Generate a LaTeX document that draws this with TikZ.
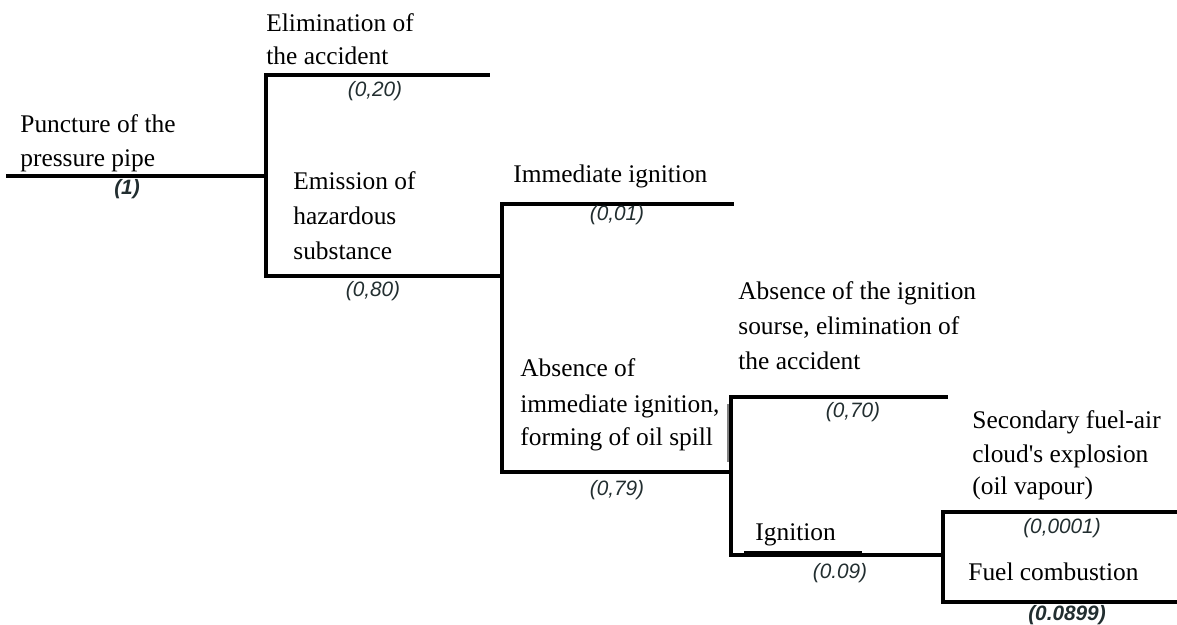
\documentclass[tikz,border=0pt]{standalone}
\usepackage{fontspec}
\setmainfont{Liberation Serif}
\newfontfamily\labfont{Liberation Sans}
\definecolor{labcol}{RGB}{34,46,48}
\begin{document}
\begin{tikzpicture}[x=0.5pt,y=-0.5pt,
  txt/.style={anchor=base west,inner sep=0pt,font=\fontsize{12.7}{15}\selectfont},
  prob/.style={anchor=base,inner sep=0pt,text=labcol,font=\labfont\itshape\fontsize{10.4}{12}\selectfont},
  probb/.style={prob,font=\labfont\bfseries\itshape\fontsize{10.4}{12}\selectfont},
  branch/.style={line width=1.6pt,line cap=rect}]
\useasboundingbox (0,0) rectangle (1177,625);
% junction coordinates
\coordinate (s0) at (8,176);
\coordinate (j1) at (266,176);
\coordinate (j1t) at (266,75);
\coordinate (j1b) at (266,276);
\coordinate (e1) at (488,75);
\coordinate (j2) at (502,276);
\coordinate (j2t) at (502,204);
\coordinate (j2b) at (502,472);
\coordinate (e2) at (732,204);
\coordinate (j3) at (731,472);
\coordinate (j3t) at (731,397);
\coordinate (j3b) at (731,555);
\coordinate (e3) at (946,397);
\coordinate (j4) at (943,555);
\coordinate (j4t) at (943,512);
\coordinate (j4b) at (943,602);
\coordinate (e4t) at (1177,512);
\coordinate (e4b) at (1177,602);
\coordinate (u1) at (744,553);
\coordinate (u2) at (862,553);
\coordinate (g1) at (728,404);
\coordinate (g2) at (728,462);
% branches
\draw[branch] (s0) -- (j1);
\draw[branch] (e1) -- (j1t) -- (j1b) -- (j2);
\draw[branch] (e2) -- (j2t) -- (j2b) -- (j3);
\draw[branch] (e3) -- (j3t) -- (j3b) -- (j4);
\draw[branch] (e4t) -- (j4t) -- (j4b) -- (e4b);
\draw[line width=2.4pt] (u1) -- (u2);
\draw[line width=0.9pt,gray] (g1) -- (g2);
% texts
\node[txt] (t1a) at (20,133) {Puncture of the};
\node[txt] (t1b) at (20,167) {pressure pipe};
\node[probb] (p1) at (127,195) {(1)};
\node[txt] (t2a) at (266,32) {Elimination of};
\node[txt] (t2b) at (266,65) {the accident};
\node[prob] (p2) at (375,97) {(0,20)};
\node[txt] (t3a) at (293,190) {Emission of};
\node[txt] (t3b) at (293,225) {hazardous};
\node[txt] (t3c) at (293,260) {substance};
\node[prob] (p3) at (373,297) {(0,80)};
\node[txt] (t4) at (513,183) {Immediate ignition};
\node[prob] (p4) at (617,221) {(0,01)};
\node[txt] (t5a) at (520,377) {Absence of};
\node[txt] (t5b) at (520,412) {immediate ignition,};
\node[txt] (t5c) at (520,445) {forming of oil spill};
\node[prob] (p5) at (617,495) {(0,79)};
\node[txt] (t6a) at (738,300) {Absence of the ignition};
\node[txt] (t6b) at (738,335) {sourse, elimination of};
\node[txt] (t6c) at (738,370) {the accident};
\node[prob] (p6) at (853,417) {(0,70)};
\node[txt] (t7) at (755,540) {Ignition};
\node[prob] (p7) at (840,578) {(0.09)};
\node[txt] (t8a) at (972,428) {Secondary fuel-air};
\node[txt] (t8b) at (972,462) {cloud\textquotesingle s explosion};
\node[txt] (t8c) at (972,494) {(oil vapour)};
\node[prob] (p8) at (1062,533) {(0,0001)};
\node[txt] (t9) at (968,580) {Fuel combustion};
\node[probb] (p9) at (1067,620) {(0.0899)};
\end{tikzpicture}
\end{document}
